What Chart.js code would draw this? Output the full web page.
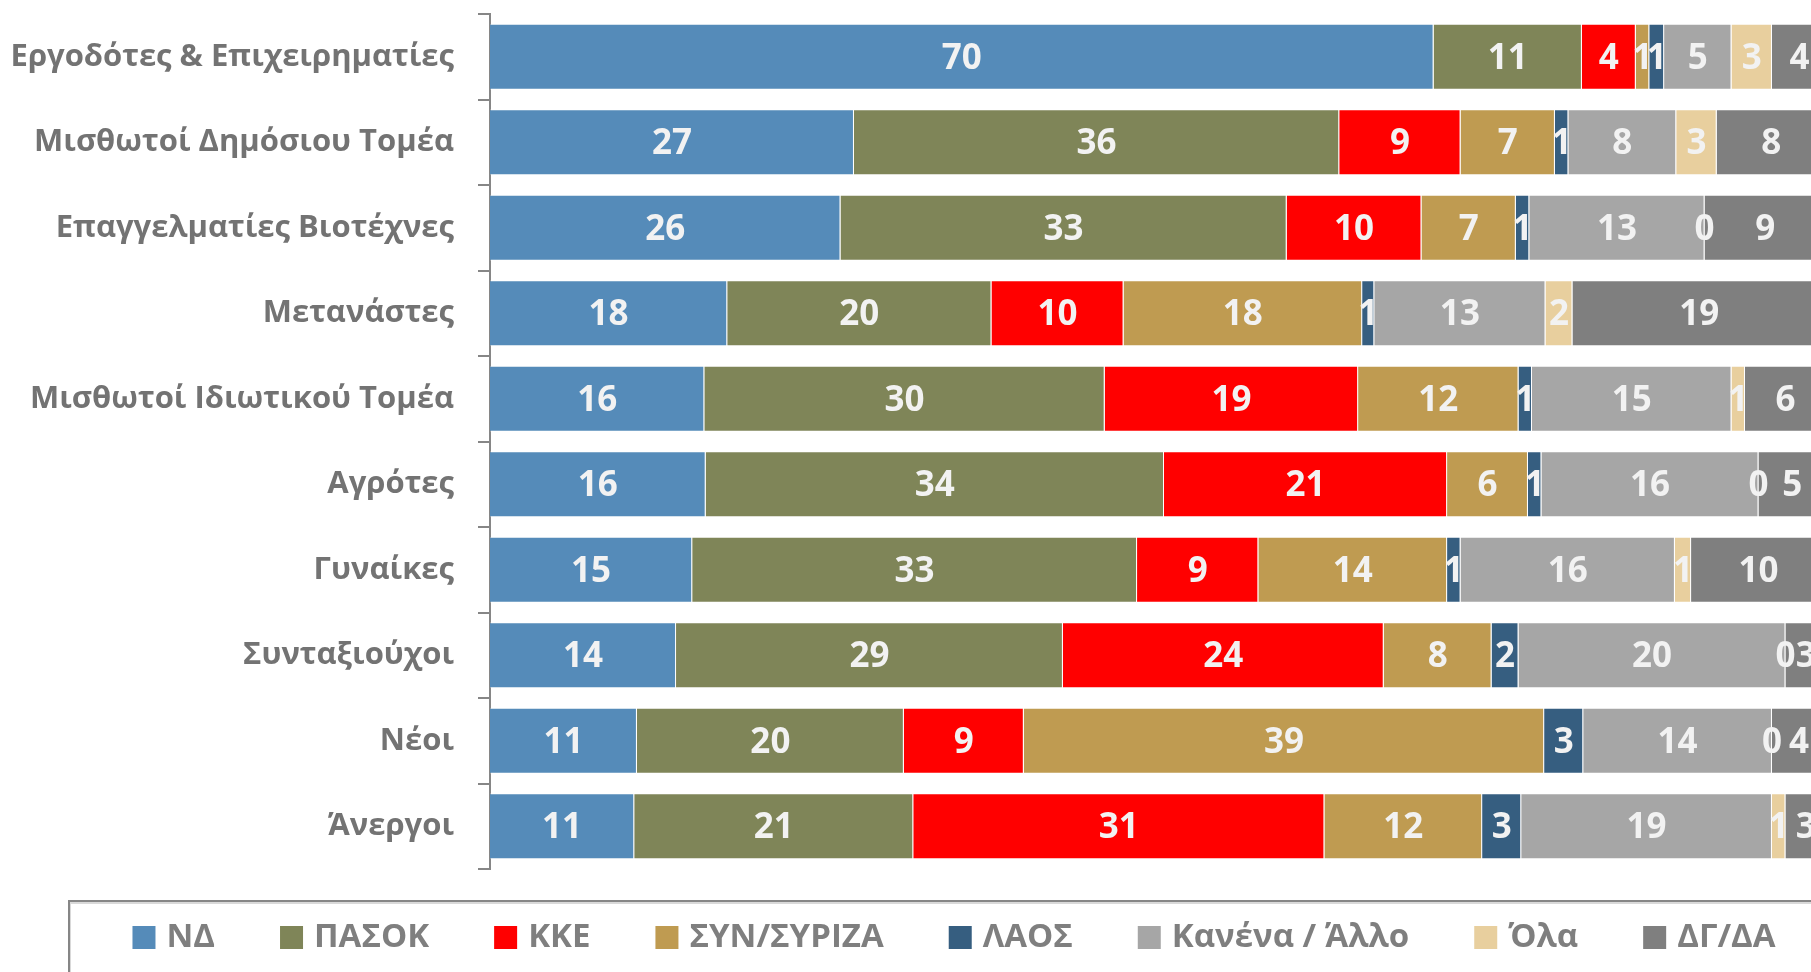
<!DOCTYPE html>
<html lang="el">
<head>
<meta charset="utf-8">
<title>Ψήφος ανά κοινωνική ομάδα</title>
<script src="https://cdn.jsdelivr.net/npm/chart.js@4.4.1/dist/chart.umd.min.js"></script>
<style>
  html, body { margin: 0; padding: 0; background: #ffffff; overflow: hidden; }
  #wrap { width: 1908px; height: 1000px; }
</style>
</head>
<body>
<div id="wrap"><canvas id="chartVoto" width="1908" height="1000"></canvas></div>
<script>
// --- DATOS ---
const categorias = [
  'Εργοδότες & Επιχειρηματίες',
  'Μισθωτοί Δημόσιου Τομέα',
  'Επαγγελματίες Βιοτέχνες',
  'Μετανάστες',
  'Μισθωτοί Ιδιωτικού Τομέα',
  'Αγρότες',
  'Γυναίκες',
  'Συνταξιούχοι',
  'Νέοι',
  'Άνεργοι'
];
const partidos = ['ΝΔ', 'ΠΑΣΟΚ', 'ΚΚΕ', 'ΣΥΝ/ΣΥΡΙΖΑ', 'ΛΑΟΣ', 'Κανένα / Άλλο', 'Όλα', 'ΔΓ/ΔΑ'];

const valND     = [70, 27, 26, 17.6, 15.9, 16, 15, 13.8, 10.9, 10.7];
const valPASOK  = [11, 36, 33.1, 19.6, 29.7, 34, 33, 28.7, 19.8, 20.7];
const valKKE    = [4, 9, 10, 9.8, 18.8, 21, 9, 23.8, 8.9, 30.5];
const valSYN    = [1, 7, 7, 17.7, 11.9, 6, 14, 8, 38.6, 11.7];
const valLAOS   = [1.1, 1, 1, 0.9, 1, 1, 1, 2, 2.9, 2.9];
const valKanena = [5, 8, 13, 12.7, 14.8, 16.1, 15.9, 19.8, 14, 18.6];
const valOla    = [3, 3, 0, 2, 1, 0, 1.2, 0, 0, 1];
const valDG     = [4.1, 8.1, 9, 18.8, 6, 5, 10, 3, 4, 3];

const colores = ['#558bb9', '#7f8558', '#ff0000', '#bf9b51', '#365e80', '#a6a6a6', '#e8cf9e', '#7f7f7f'];
const series = [valND, valPASOK, valKKE, valSYN, valLAOS, valKanena, valOla, valDG];

const FONT = '"Open Sans", "Noto Sans", "DejaVu Sans", sans-serif';

// --- PLUGIN: etiquetas dentro de cada segmento ---
const etiquetasPlugin = {
  id: 'etiquetas',
  afterDatasetsDraw(chart) {
    const ctx = chart.ctx;
    ctx.save();
    ctx.font = 'bold 35px ' + FONT;
    ctx.fillStyle = '#f2f2f2';
    ctx.textAlign = 'center';
    ctx.textBaseline = 'middle';
    chart.data.datasets.forEach((ds, i) => {
      const meta = chart.getDatasetMeta(i);
      meta.data.forEach((bar, j) => {
        const x = (bar.x + bar.base) / 2;
        ctx.fillText(String(Math.round(ds.data[j])), x, bar.y + 2);
      });
    });
    ctx.restore();
  }
};

// --- PLUGIN: leyenda con marco ---
const leyendaPlugin = {
  id: 'leyendaMarco',
  afterDraw(chart) {
    const ctx = chart.ctx;
    const W = chart.width;
    const top = 901;
    ctx.save();
    // marco
    ctx.strokeStyle = '#d9d9d9';
    ctx.lineWidth = 2;
    ctx.strokeRect(70, top + 2, W - 140, 200);
    ctx.strokeStyle = '#868686';
    ctx.lineWidth = 2;
    ctx.strokeRect(69, top, W - 138, 200);

    ctx.font = 'bold 33px ' + FONT;
    ctx.textBaseline = 'middle';
    const caja = 23, hueco = 11, sep = 65;
    const items = chart.data.datasets.map(ds => ({
      texto: ds.label,
      color: ds.backgroundColor,
      ancho: caja + hueco + ctx.measureText(ds.label).width
    }));
    const total = items.reduce((s, it) => s + it.ancho, 0) + sep * (items.length - 1);
    let x = W / 2 - total / 2;
    const yc = 937.5;
    items.forEach(it => {
      ctx.fillStyle = it.color;
      ctx.fillRect(x, yc - caja / 2, caja, caja);
      ctx.fillStyle = '#7f7f7f';
      ctx.textAlign = 'left';
      ctx.fillText(it.texto, x + caja + hueco, yc);
      x += it.ancho + sep;
    });
    ctx.restore();
  }
};

// --- GRÁFICO ---
const ctx = document.getElementById('chartVoto').getContext('2d');
new Chart(ctx, {
  type: 'bar',
  data: {
    labels: categorias,
    datasets: series.map((serie, i) => ({
      label: partidos[i],
      data: serie,
      backgroundColor: colores[i],
      borderColor: 'rgba(255,255,255,0.35)',
      borderWidth: { top: 1, bottom: 1, left: 0, right: 1 },
      borderSkipped: false,
      categoryPercentage: 1,
      barPercentage: 0.772
    }))
  },
  options: {
    indexAxis: 'y',
    responsive: false,
    animation: false,
    devicePixelRatio: 1,
    layout: { padding: { top: 14, right: 70, bottom: 131, left: 0 } },
    plugins: {
      legend: { display: false },
      tooltip: { enabled: false }
    },
    scales: {
      x: {
        stacked: true,
        min: 0,
        max: 100,
        display: false
      },
      y: {
        stacked: true,
        afterFit: (scale) => {
          scale.width = 490;
          scale.paddingTop = 0;
          scale.paddingBottom = 0;
        },
        grid: {
          drawOnChartArea: false,
          drawTicks: true,
          tickLength: 12,
          color: '#868686',
          lineWidth: 2
        },
        border: { display: true, color: '#868686', width: 2 },
        ticks: {
          color: '#737373',
          padding: 24,
          font: { family: FONT, size: 31, weight: 'bold' }
        }
      }
    }
  },
  plugins: [etiquetasPlugin, leyendaPlugin]
});
</script>
</body>
</html>
